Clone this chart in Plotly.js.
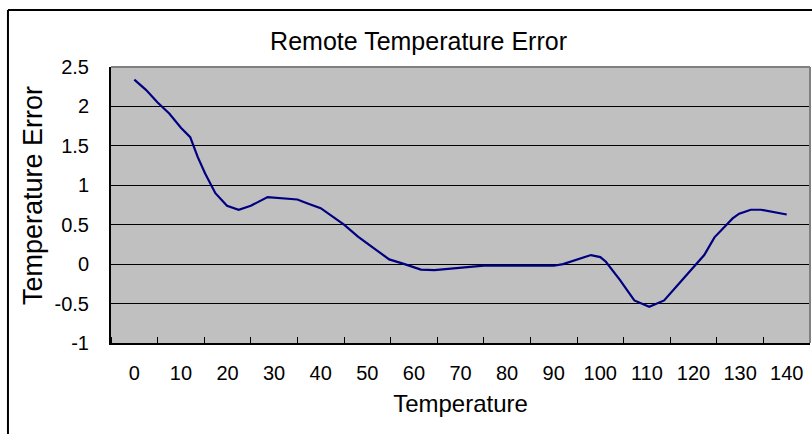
<!DOCTYPE html>
<html>
<head>
<meta charset="utf-8">
<script src="https://cdn.plot.ly/plotly-3.0.1.min.js"></script>
<style>
  html, body { margin: 0; padding: 0; background: #ffffff; }
  #chart { width: 812px; height: 434px; }
</style>
</head>
<body>
<div id="chart"></div>
<script>
// Temperature (x) and remote temperature error (y)
const temperature = [0, 2.5, 5, 7.5, 10, 12, 13.6, 15.2, 17.4, 19.9, 22.4, 25, 28.6, 31.5, 35, 37.2, 40, 45, 48, 51, 54.7, 58, 61.5, 64.4, 68, 75, 80, 85, 90, 92, 95, 98, 100, 101.2, 104.2, 107.3, 110.5, 113.7, 117, 120, 122.3, 124.5, 128.4, 129.8, 132.3, 134.5, 140];
const tempError   = [2.34, 2.21, 2.05, 1.91, 1.73, 1.61, 1.36, 1.15, 0.90, 0.74, 0.69, 0.74, 0.85, 0.84, 0.82, 0.77, 0.71, 0.50, 0.35, 0.22, 0.06, 0.0, -0.07, -0.077, -0.055, -0.02, -0.02, -0.02, -0.02, 0.0, 0.06, 0.115, 0.09, 0.03, -0.2, -0.46, -0.54, -0.46, -0.24, -0.04, 0.115, 0.34, 0.58, 0.64, 0.69, 0.69, 0.63];

const xTickVals = [0, 10, 20, 30, 40, 50, 60, 70, 80, 90, 100, 110, 120, 130, 140];
const xTickText = ["0", "10", "20", "30", "40", "50", "60", "70", "80", "90", "100", "110", "120", "130", "140"];
const yTickVals = [-1, -0.5, 0, 0.5, 1, 1.5, 2, 2.5];
const yTickText = ["-1", "-0.5", "0", "0.5", "1", "1.5", "2", "2.5"];

const FONT = "Liberation Sans, Arial, sans-serif";

const trace = {
  x: temperature,
  y: tempError,
  type: "scatter",
  mode: "lines",
  line: { color: "#000080", width: 2.2 },
  hoverinfo: "skip"
};

const layout = {
  width: 812,
  height: 434,
  margin: { l: 111, r: 2, t: 67, b: 91, pad: 0 },
  paper_bgcolor: "#ffffff",
  plot_bgcolor: "#c0c0c0",
  showlegend: false,
  font: { family: FONT, color: "#000000", size: 20 },
  title: {
    text: "Remote Temperature Error",
    font: { family: FONT, size: 25, color: "#000000" },
    x: 0.44, xref: "paper", xanchor: "center",
    y: 0.905, yref: "container", yanchor: "middle"
  },
  xaxis: {
    range: [-5, 145],
    tickmode: "array",
    tickvals: xTickVals,
    ticktext: xTickText,
    ticks: "",
    ticklabelstandoff: 11,
    tickfont: { family: FONT, size: 20, color: "#000000" },
    showgrid: false,
    zeroline: false,
    showline: true,
    linecolor: "#000000",
    linewidth: 2,
    minor: { tickmode: "linear", tick0: 5, dtick: 10, ticks: "inside", ticklen: 6, tickwidth: 1, tickcolor: "#000000", showgrid: false },
    title: { text: "Temperature", font: { family: FONT, size: 24, color: "#000000" }, standoff: 12 },
    fixedrange: true
  },
  yaxis: {
    range: [-1, 2.5],
    tickmode: "array",
    tickvals: yTickVals,
    ticktext: yTickText,
    ticks: "inside",
    ticklen: 6,
    tickcolor: "#000000",
    ticklabelstandoff: 16,
    tickfont: { family: FONT, size: 20, color: "#000000" },
    showgrid: true,
    gridcolor: "#000000",
    gridwidth: 1,
    zeroline: false,
    showline: true,
    linecolor: "#000000",
    linewidth: 2,
    fixedrange: true
  },
  annotations: [
    { text: "Temperature Error", textangle: -90, xref: "paper", yref: "paper",
      x: -0.1116, y: 0.536, xanchor: "center", yanchor: "middle", showarrow: false,
      font: { family: FONT, size: 27, color: "#000000" } }
  ],
  shapes: [
    // gray top and right plot border
    { type: "line", xref: "paper", yref: "paper", x0: 0, x1: 1, y0: 1, y1: 1, line: { color: "#808080", width: 2 }, layer: "above" },
    { type: "line", xref: "paper", yref: "paper", x0: 1, x1: 1, y0: 0, y1: 1, line: { color: "#808080", width: 2 }, layer: "above" },
    // outer chart frame (left and top edges visible)
    { type: "line", xref: "paper", yref: "paper", x0: -0.1474, x1: 1.2, y0: 1.2065, y1: 1.2065, line: { color: "#000000", width: 2 } },
    { type: "line", xref: "paper", yref: "paper", x0: -0.1474, x1: -0.1474, y0: -0.5, y1: 1.2065, line: { color: "#000000", width: 2 } }
  ]
};

Plotly.newPlot("chart", [trace], layout, { staticPlot: true, displayModeBar: false });
</script>
</body>
</html>
